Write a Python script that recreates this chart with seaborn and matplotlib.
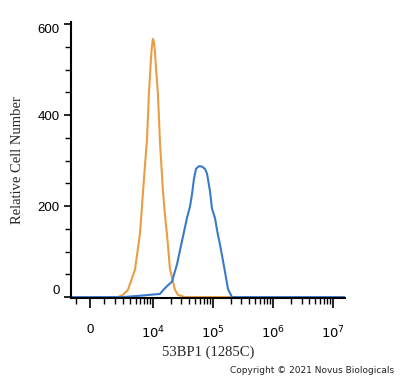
import numpy as np
import pandas as pd
import matplotlib
matplotlib.use('Agg')
import matplotlib.pyplot as plt
import seaborn as sns

# isotype control (orange) and 53BP1 stained cells (blue)
control_x = [1520, 2330, 2935, 3650, 4890, 5990, 6750, 7305, 7900, 8550, 9250,
             9610, 9990, 10390, 10800, 11220, 12140, 13120, 14730, 15920, 17190,
             19290, 23380, 26250, 34350, 193000]
control_y = [0, 0, 5, 16, 60, 140, 230, 290, 345, 450, 525,
             552, 568, 560, 540, 505, 445, 340, 232, 180, 138,
             62, 16, 5, 0, 0]

stained_x = [-1430, 2840, 5990, 8890, 13120, 14730, 17190, 20840, 25260, 30600,
             37090, 41630, 44960, 48490, 52380, 58770, 65970, 73980, 79920, 89640,
             96750, 108540, 121860, 131490, 159300, 178740, 208260, 1.59e7]
stained_y = [0, 0, 3, 5, 7, 15, 24, 34, 72, 123,
             174, 199, 226, 260, 282, 288, 287, 282, 272, 233,
             195, 174, 136, 116, 56, 18, 0, 0]

x_ticks = [0, 1e4, 1e5, 1e6, 1e7]
x_tick_labels = ['0', '$10^4$', '$10^5$', '$10^6$', '$10^7$']
y_ticks = [0, 200, 400, 600]

C = 1800.0  # arcsinh cofactor of the display scale


def fwd(v):
    return np.arcsinh(np.asarray(v, dtype=float) / C)


def inv(u):
    return C * np.sinh(u)


sns.set_style('ticks')
plt.rcParams['font.family'] = ['Liberation Sans', 'DejaVu Sans']

df = pd.concat([
    pd.DataFrame({'x': control_x, 'y': control_y, 'grp': 'control'}),
    pd.DataFrame({'x': stained_x, 'y': stained_y, 'grp': 'stained'}),
])

fig = plt.figure(figsize=(4.0, 3.78), dpi=100)
ax = fig.add_axes([0.1775, 0.2116, 0.685, 0.7302])
ax.set_xscale('function', functions=(fwd, inv))

sns.lineplot(data=df[df.grp == 'control'], x='x', y='y', ax=ax, color='#E99D45',
             linewidth=1.5, sort=False, estimator=None)
sns.lineplot(data=df[df.grp == 'stained'], x='x', y='y', ax=ax, color='#3A7BC8',
             linewidth=1.5, sort=False, estimator=None)

ax.set_xlim(-1430, 1.59e7)
ax.set_ylim(-2, 605)

ax.set_xticks(x_ticks)
ax.set_xticklabels(x_tick_labels)
minor = [-1000]
minor += [k * 1000 for k in range(1, 10)]
for dec in [1e4, 1e5, 1e6]:
    minor += [k * dec for k in range(2, 10)]
ax.set_xticks(minor, minor=True)

ax.set_yticks(y_ticks)
ax.set_yticks(list(range(50, 600, 50)), minor=True)

for s in ['top', 'right']:
    ax.spines[s].set_visible(False)
for s in ['left', 'bottom']:
    ax.spines[s].set_color('black')
    ax.spines[s].set_linewidth(1.5)

ax.tick_params(axis='x', which='major', length=7, width=1.2, pad=12,
               labelsize=9.5, colors='black')
ax.tick_params(axis='x', which='minor', length=4, width=1.0, colors='black')
ax.tick_params(axis='y', which='major', length=5, width=1.2, pad=3,
               labelsize=9.5, colors='black')
ax.tick_params(axis='y', which='minor', length=4, width=1.0, colors='black')

ylabels = ax.get_yticklabels()
ylabels[0].set_va('bottom')
ylabels[-1].set_va('top')

ax.set_xlabel('53BP1 (1285C)', family=['Liberation Serif'], fontsize=10.5,
              labelpad=3)
ax.set_ylabel('Relative Cell Number', family=['Liberation Serif'],
              fontsize=10.5, labelpad=10)

fig.text(0.985, 0.008, 'Copyright \u00a9 2021 Novus Biologicals',
         ha='right', va='bottom', fontsize=6.5, color='#222222',
         family=['DejaVu Sans'])

fig.savefig('out.png', dpi=100)
